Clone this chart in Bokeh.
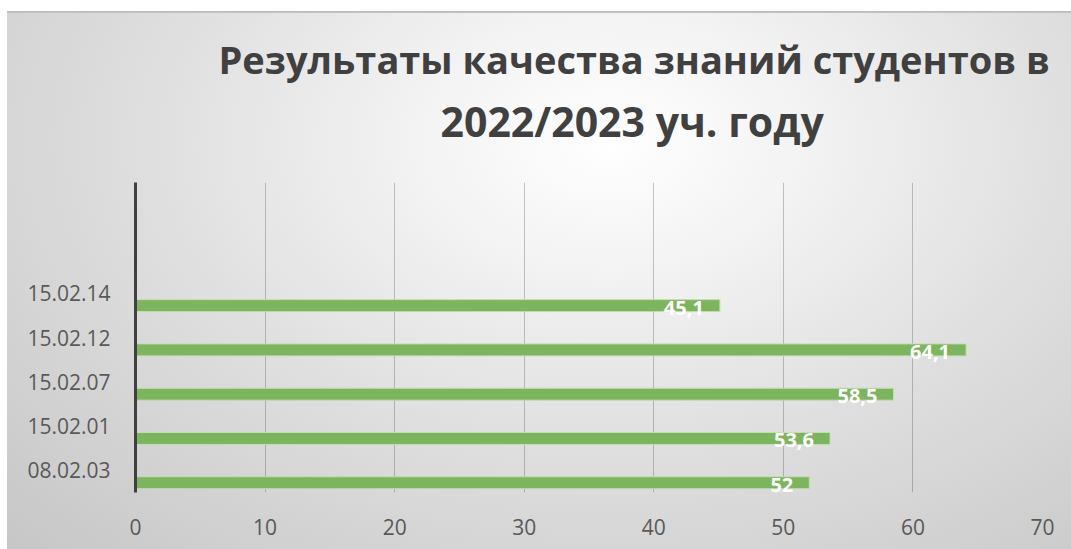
from bokeh.plotting import figure
from bokeh.models import FactorRange, Range1d, ColumnDataSource, LabelSet, Title, SingleIntervalTicker
from bokeh.transform import dodge
from bokeh.core.properties import value
from bokeh.embed import file_html
from bokeh.resources import INLINE

categories = ["08.02.03", "15.02.01", "15.02.07", "15.02.12", "15.02.14"]
values = [52, 53.6, 58.5, 64.1, 45.1]
empty_slots = [" ", "  "]
x_ticks_interval = 10
x_max = 70
title_lines = ["Результаты качества знаний студентов в", "2022/2023 уч. году"]

labels = [f"{v:g}".replace(".", ",") for v in values]
src = ColumnDataSource(dict(cat=categories, val=values, lab=labels))

p = figure(width=1071, height=549, output_backend="svg", toolbar_location=None,
           y_range=FactorRange(factors=categories + empty_slots, range_padding=0),
           x_range=Range1d(0, x_max),
           min_border_left=135, min_border_right=29, min_border_top=182, min_border_bottom=57)

p.styles = {"background": "linear-gradient(to right, #ffffff 0px, #ffffff 7px, transparent 7px), "
                          "linear-gradient(to bottom, #ffffff 0px, #ffffff 11px, #b8b8b8 11px, #c6c6c6 13px, transparent 13px), "
                          "radial-gradient(ellipse farthest-corner at 57% 26%, #ffffff 0%, #f3f3f3 22%, #dedede 55%, #c6c6c6 100%)"}
p.background_fill_alpha = 0
p.border_fill_alpha = 0
p.outline_line_color = None

p.hbar(y=dodge("cat", -0.28, range=p.y_range), left=0, right="val", height=0.27, source=src,
       fill_color="#7db45e", line_color="#c3ddb2", line_width=1)

lbl = LabelSet(x="val", y=dodge("cat", -0.28, range=p.y_range), text="lab", source=src,
               text_align="right", text_baseline="middle", x_offset=-16, y_offset=-2,
               text_color="white", text_font=value("Open Sans"), text_font_style="bold",
               text_font_size="20px")
p.add_layout(lbl)

p.xaxis.ticker = SingleIntervalTicker(interval=x_ticks_interval)
p.xaxis.axis_line_color = None
p.xaxis.major_tick_line_color = None
p.xaxis.minor_tick_line_color = None
p.xaxis.major_label_standoff = 20
p.yaxis.axis_line_color = "#404040"
p.yaxis.axis_line_width = 3
p.yaxis.major_tick_line_color = None
p.yaxis.minor_tick_line_color = None
p.yaxis.major_label_standoff = 19
for ax in (p.xaxis, p.yaxis):
    ax.major_label_text_font = "Open Sans"
    ax.major_label_text_font_size = "21px"
    ax.major_label_text_color = "#595959"

p.xgrid.grid_line_color = "black"
p.xgrid.grid_line_alpha = 0.21
p.ygrid.grid_line_color = None

# line 1 is the plot's own title (outer); line 2 is added and sits next to the frame
p.title = Title(text=title_lines[0], align="left", offset=83, standoff=-56,
                text_font="Open Sans", text_font_style="bold", text_font_size="38px",
                text_color="#404040")
p.add_layout(Title(text=title_lines[1], align="left", offset=305, standoff=68,
                   text_font="Open Sans", text_font_style="bold", text_font_size="41px",
                   text_color="#404040"), "above")

open("out.html", "w").write(file_html(p, INLINE))
